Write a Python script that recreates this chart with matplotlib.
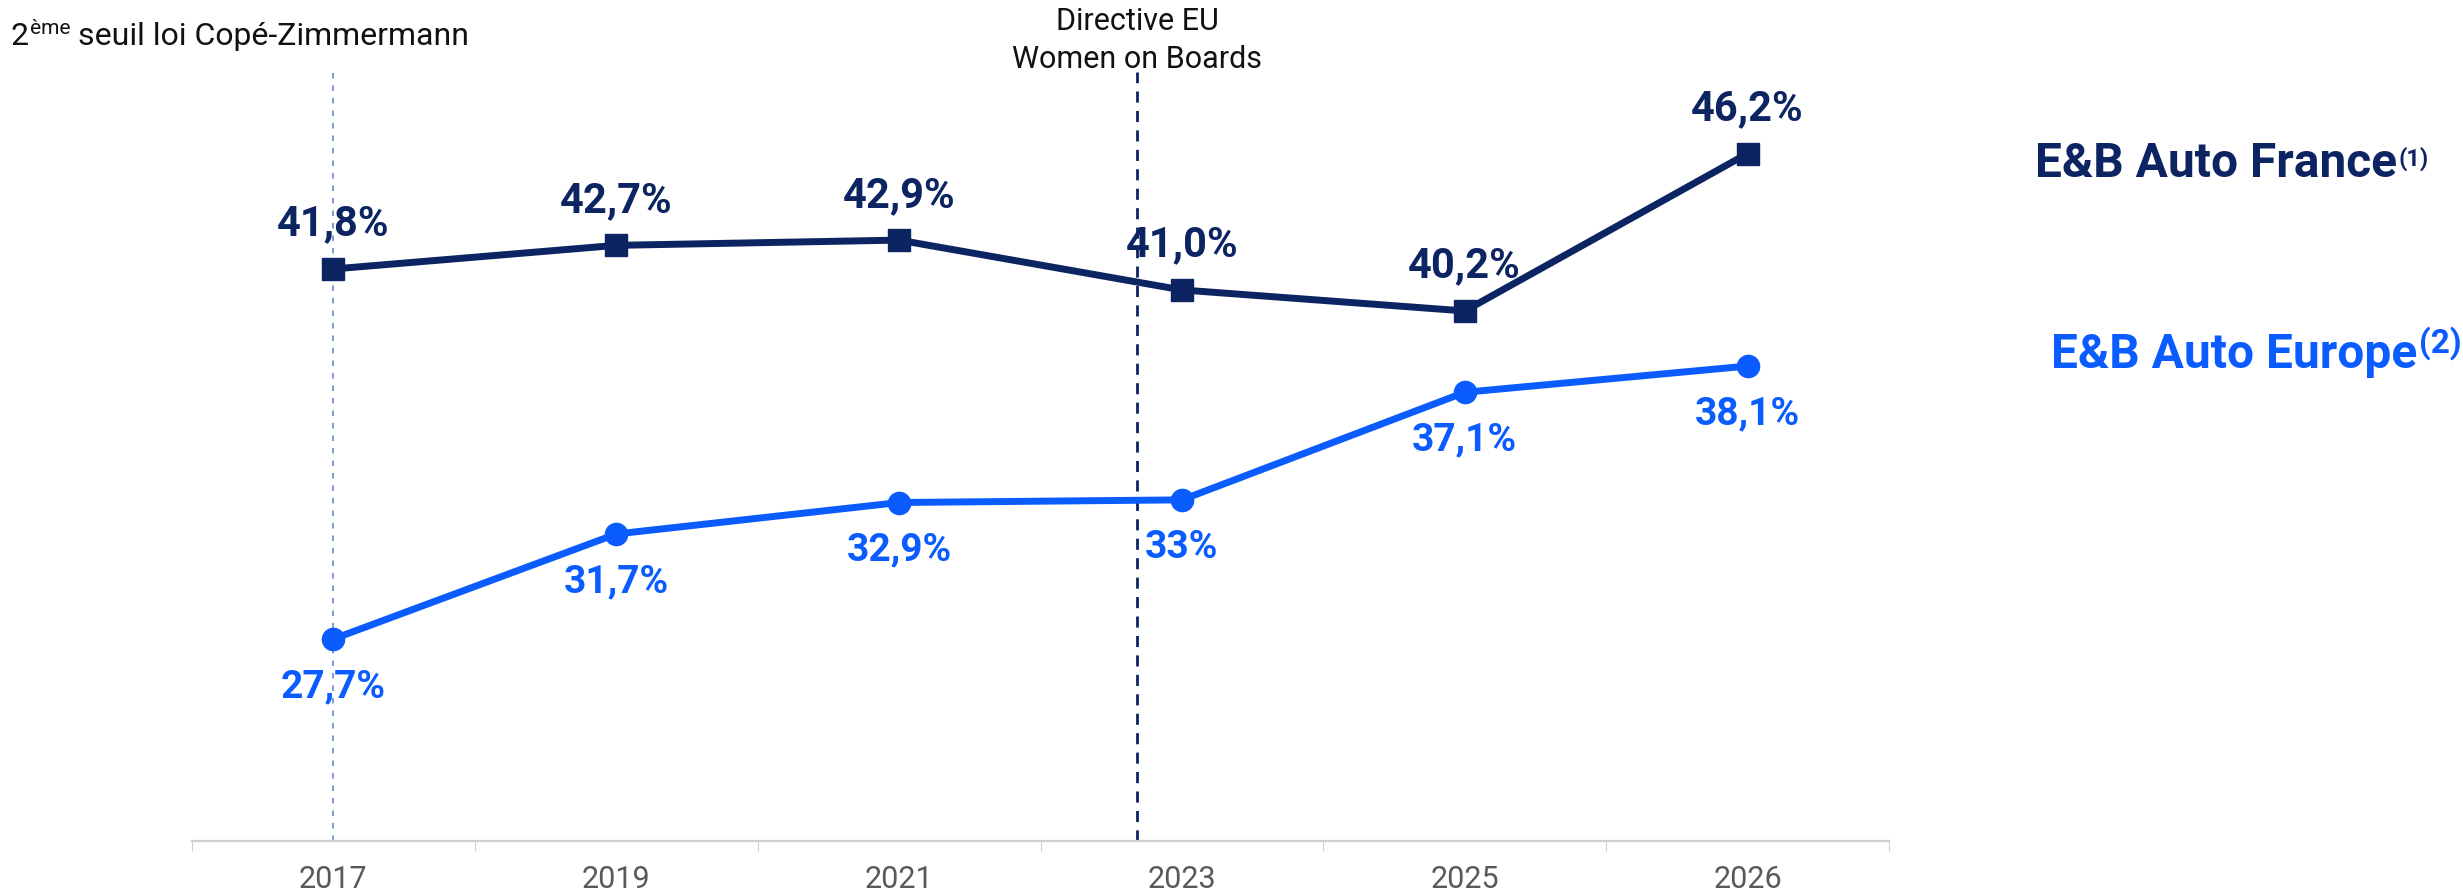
import matplotlib
matplotlib.use("Agg")
import matplotlib.pyplot as plt

# données
annees = ["2017", "2019", "2021", "2023", "2025", "2026"]
france = [41.8, 42.7, 42.9, 41.0, 40.2, 46.2]
europe = [27.7, 31.7, 32.9, 33.0, 37.1, 38.1]
france_lbl = ["41,8%", "42,7%", "42,9%", "41,0%", "40,2%", "46,2%"]
europe_lbl = ["27,7%", "31,7%", "32,9%", "33%", "37,1%", "38,1%"]

NAVY = "#0c2461"
BLUE = "#0a5cff"
GRIS = "#d0d0d0"

plt.rcParams["font.family"] = ["Roboto", "DejaVu Sans"]
plt.rcParams["lines.scale_dashes"] = False

W, H = 2463, 896
fig = plt.figure(figsize=(W / 100, H / 100), dpi=100)
ax = fig.add_axes([192 / W, 55 / H, 1697 / W, 841 / H])

x = list(range(len(annees)))
ax.set_xlim(-0.5, len(annees) - 0.5)
ax.set_ylim(20, 20 + 841 / 26.24)

# lignes verticales de repère
ax.vlines(0, 20, 49.5, color="#5a82d0", lw=1.1, linestyles=(0, (4, 5)), zorder=1)
ax.vlines(2.84, 20, 49.3, color=NAVY, lw=2, linestyles=(0, (8, 6)), zorder=1)

ax.plot(x, france, color=NAVY, lw=5, marker="s", ms=16, zorder=3)
ax.plot(x, europe, color=BLUE, lw=5, marker="o", ms=16, zorder=3)

for xi, v, s in zip(x, france, france_lbl):
    ax.annotate(s, (xi, v), xytext=(0, 24), textcoords="offset points",
                ha="center", va="baseline", fontsize=30, fontweight="bold", color=NAVY)
for xi, v, s in zip(x, europe, europe_lbl):
    ax.annotate(s, (xi, v), xytext=(0, -42), textcoords="offset points",
                ha="center", va="baseline", fontsize=28, fontweight="bold", color=BLUE)

# axe
for sp in ["top", "right", "left"]:
    ax.spines[sp].set_visible(False)
ax.spines["bottom"].set_color(GRIS)
ax.spines["bottom"].set_linewidth(1.6)
ax.set_yticks([])
ax.set_xticks(x)
ax.set_xticklabels(annees, fontsize=22, color="#595959")
ax.tick_params(axis="x", which="major", length=0, pad=17)
ax.set_xticks([i - 0.5 for i in range(len(annees) + 1)], minor=True)
ax.tick_params(axis="x", which="minor", length=7.5, width=0.8, color=GRIS)


def fx(px):
    return px / W


def fy(py):
    return 1 - py / H


# textes du haut
fig.text(fx(10), fy(45), "2", fontsize=23, va="baseline", color="#111111")
tm = fig.text(fx(30), fy(34), "ème", fontsize=15, va="baseline", color="#111111")
fig.text(fx(1137), fy(30), "Directive EU", fontsize=22, ha="center", va="baseline", color="#111111")
fig.text(fx(1137), fy(68), "Women on Boards", fontsize=22, ha="center", va="baseline", color="#111111")

# libellés des séries
tf = fig.text(fx(2035), fy(177), "E&B Auto France", fontsize=34.5, fontweight="bold",
              va="baseline", color=NAVY)
te = fig.text(fx(2051), fy(368), "E&B Auto Europe", fontsize=34.5, fontweight="bold",
              va="baseline", color=BLUE)

fig.canvas.draw()
r = fig.canvas.get_renderer()

xm = tm.get_window_extent(r).x1
fig.text(xm / W, fy(45), " seuil loi Copé-Zimmermann", fontsize=23, va="baseline", color="#111111")

xf = tf.get_window_extent(r).x1
fig.text(xf / W + 0.0005, fy(166), "(1)", fontsize=17, fontweight="bold", va="baseline", color=NAVY)
xe = te.get_window_extent(r).x1
fig.text(xe / W + 0.0005, fy(353), "(2)", fontsize=24, fontweight="bold", va="baseline", color=BLUE)

fig.savefig("out.png", dpi=100)
